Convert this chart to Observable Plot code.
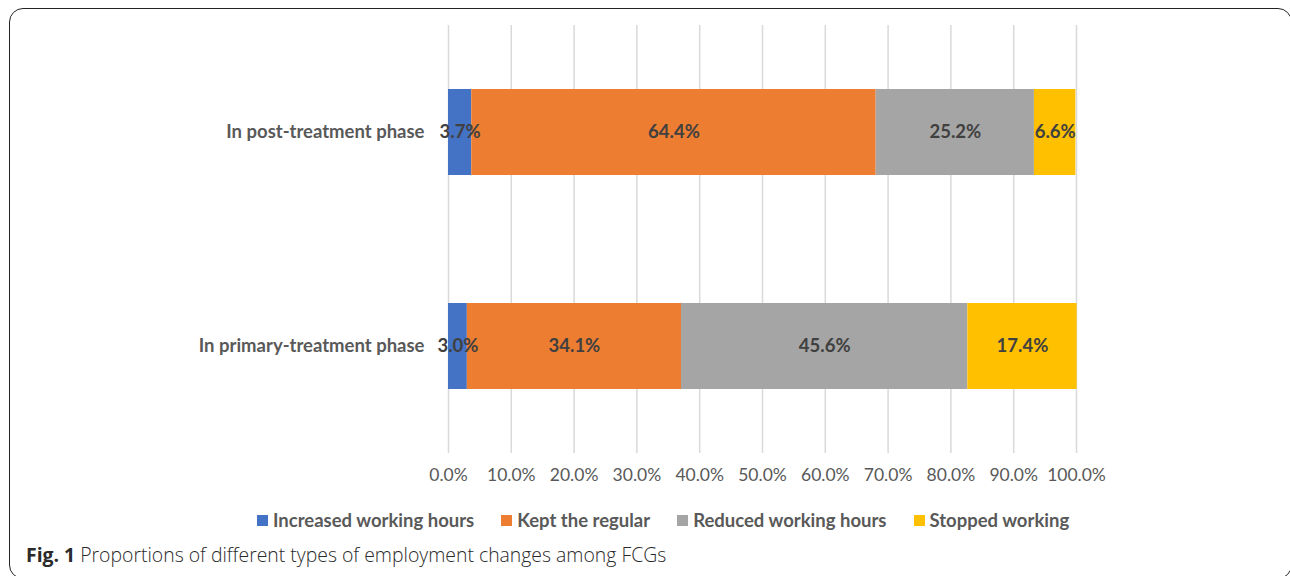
<!DOCTYPE html>
<html>
<head>
<meta charset="utf-8">
<script src="https://cdn.jsdelivr.net/npm/d3@7"></script>
<script src="https://cdn.jsdelivr.net/npm/@observablehq/plot@0.6"></script>
<style>
  html, body { margin: 0; padding: 0; background: #fff; width: 1290px; height: 576px; overflow: hidden; position: relative; }
  #frame { position: absolute; left: 9px; top: 8px; width: 1283px; height: 571px; border: 1.6px solid #222; border-radius: 14px; box-sizing: border-box; }
  #chart { position: absolute; left: 0; top: 0; }
  #legend { position: absolute; left: 257px; top: 509px; display: flex; font-family: Lato, "Open Sans", sans-serif; font-weight: 700; font-size: 18.5px; color: #595959; white-space: nowrap; }
  #legend .item { display: flex; align-items: center; margin-right: 27px; }
  #legend .sw { width: 11px; height: 11px; margin-right: 5px; }
  #caption { position: absolute; left: 26px; top: 541px; font-family: "Open Sans", sans-serif; font-size: 19.4px; color: #2a2a2a; white-space: nowrap; }
  #caption .rest { font-weight: 300; }
  #caption b { font-weight: 700; }
</style>
</head>
<body>
<div id="frame"></div>
<div id="chart"></div>
<div id="legend"></div>
<div id="caption"><b>Fig. 1</b> <span class="rest">Proportions of different types of employment changes among FCGs</span></div>
<script>
const phases = ["In post-treatment phase", "In primary-treatment phase"];
const types = ["Increased working hours", "Kept the regular", "Reduced working hours", "Stopped working"];
const colors = ["#4472C4", "#ED7D31", "#A5A5A5", "#FFC000"];
const postValues = [3.7, 64.4, 25.2, 6.6];
const primaryValues = [3.0, 34.1, 45.6, 17.4];
const xTicks = [0, 10, 20, 30, 40, 50, 60, 70, 80, 90, 100];

const data = [];
[postValues, primaryValues].forEach((vals, i) => {
  vals.forEach((v, j) => data.push({phase: phases[i], type: types[j], value: v}));
});

const chart = Plot.plot({
  width: 1290,
  height: 500,
  marginLeft: 448,
  marginRight: 214,
  marginTop: 25,
  marginBottom: 47,
  style: {fontFamily: "Lato, 'Open Sans', sans-serif", background: "transparent", overflow: "visible"},
  x: {domain: [0, 100], ticks: xTicks, tickFormat: d => d.toFixed(1) + "%", label: null},
  y: {domain: phases, paddingInner: 0.6, paddingOuter: 0.3, label: null},
  color: {domain: types, range: colors},
  marks: [
    Plot.ruleX(xTicks, {stroke: "#d9d9d9", strokeWidth: 1.5}),
    Plot.barX(data, {x: "value", y: "phase", fill: "type", order: null}),
    Plot.text(data, Plot.stackX({x: "value", y: "phase", z: "type", order: null,
      text: d => d.value.toFixed(1) + "%", fill: "#404040", fontWeight: 700, fontSize: 18.5})),
    Plot.axisX({ticks: xTicks, tickFormat: d => d.toFixed(1) + "%", tickSize: 0, tickPadding: 15, fontSize: 17.5, color: "#595959", label: null}),
    Plot.axisY({tickSize: 0, tickPadding: 24, fontSize: 18.5, fontWeight: 700, color: "#595959", label: null})
  ]
});
document.getElementById("chart").appendChild(chart);

const legend = document.getElementById("legend");
types.forEach((t, i) => {
  const item = document.createElement("div");
  item.className = "item";
  const sw = document.createElement("div");
  sw.className = "sw";
  sw.style.background = colors[i];
  const lab = document.createElement("span");
  lab.textContent = t;
  item.appendChild(sw);
  item.appendChild(lab);
  legend.appendChild(item);
});
</script>
</body>
</html>
